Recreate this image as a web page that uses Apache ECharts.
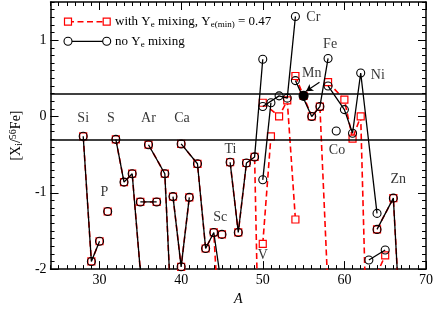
<!DOCTYPE html>
<html>
<head>
<meta charset="utf-8">
<script src="https://cdn.jsdelivr.net/npm/echarts@6/dist/echarts.min.js"></script>
<style>html,body{margin:0;padding:0;background:#fff}#c{width:436px;height:311px}</style>
</head>
<body>
<div id="c"></div>
<script>
// ---- data ----
const isoElement = ['Si','Si','Si','P','S','S','S','S','Cl','Cl','Ar','Ar','Ar','K','K','K','Ca','Ca','Ca','Ca','Ca','Ca','Sc','Ti','Ti','Ti','Ti','Ti','V','V','Cr','Cr','Cr','Cr','Mn','Fe','Fe','Fe','Fe','Co','Ni','Ni','Ni','Ni','Ni','Cu','Cu','Zn','Zn','Zn','Zn','Zn'];
const isoA = [28,29,30,31,32,33,34,36,35,37,36,38,40,39,40,41,40,42,43,44,46,48,45,46,47,48,49,50,50,51,50,52,53,54,55,54,56,57,58,59,58,60,61,62,64,63,65,64,66,67,68,70];
const noYeMixing = [-0.26,-1.90,-1.635,-1.245,-0.30,-0.86,-0.75,-3.3,-1.12,-1.12,-0.37,-0.75,-5.3,-1.05,-1.97,-1.06,-0.36,-0.62,-1.73,-1.52,-3.0,-3.5,-1.545,-0.60,-1.52,-0.61,-0.53,0.75,-0.83,0.18,0.13,0.27,0.24,1.31,0.27,0.47,0.0,0.13,0.76,-0.19,0.40,0.09,-0.22,0.57,-1.27,-1.88,-1.75,-1.48,-1.07,-3.05,-3.5,-4.0];
const withYeMixing = [-0.26,-1.90,-1.635,-1.245,-0.30,-0.86,-0.75,-3.3,-1.12,-1.12,-0.37,-0.75,-5.3,-1.05,-1.97,-1.06,-0.36,-0.62,-1.73,-1.52,-5.3,-6.0,-1.545,-0.60,-1.52,-0.61,-0.53,-5.7,-1.67,-0.26,0.18,0.0,0.21,-1.35,0.27,0.53,0.0,0.13,-2.3,null,0.45,0.22,-0.29,0.0,-8.0,-2.3,-1.82,-1.48,-1.07,-3.05,-3.5,-4.0];

const labelText = ['Si','S','Ar','Ca','P','Ti','Sc','V','Cr','Mn','Fe','Ni','Co','Zn'];
const labelA = [28.0,31.4,36.0,40.1,30.6,46.05,44.8,50.0,56.2,56.0,58.25,64.1,59.1,66.6];
const labelV = [-0.02,-0.02,-0.02,-0.02,-1.0,-0.43,-1.32,-1.82,1.30,0.56,0.95,0.54,-0.45,-0.83];

const xMajorTicks = [30,40,50,60,70];
const yMajorTicks = [-2,-1,0,1];
const bandLimits = [0.3,-0.3];
const mnArrow = [[56.95,0.45],[55.3,0.33]];

// ---- build ----
const FONT = 'Liberation Serif';
const RED = '#ff0000';
const xMinor = []; for (let a = 24; a <= 70; a++) xMinor.push(a);
const yMinor = []; for (let k = -20; k <= 15; k++) yMinor.push(+(k/10).toFixed(1));

const groups = [];
isoElement.forEach((el, i) => {
  if (!groups.length || groups[groups.length-1].el !== el) groups.push({el, idx: []});
  groups[groups.length-1].idx.push(i);
});

const series = [];
groups.forEach(g => {
  const filled = g.el === 'Mn';
  series.push({
    type: 'line', name: 'with mixing', z: 2,
    data: g.idx.filter(i => withYeMixing[i] !== null).map(i => [isoA[i], withYeMixing[i]]),
    symbol: 'rect', symbolSize: 7, showAllSymbol: true,
    lineStyle: {color: RED, width: 1.6, type: [6,3.5]},
    itemStyle: {color: filled ? RED : '#fff', borderColor: RED, borderWidth: 1.2},
    emphasis: {disabled: true}, animation: false
  });
});
groups.forEach((g, gi) => {
  const filled = g.el === 'Mn';
  const s = {
    type: 'line', name: 'no mixing', z: 3,
    data: g.idx.map(i => [isoA[i], noYeMixing[i]]),
    symbol: 'circle', symbolSize: filled ? 9 : 8, showAllSymbol: true,
    lineStyle: {color: '#000', width: 1.3},
    itemStyle: {color: filled ? '#000' : 'rgba(255,255,255,0)', borderColor: '#000', borderWidth: 1.1},
    emphasis: {disabled: true}, animation: false
  };
  if (gi === 0) {
    s.markLine = {
      silent: true, symbol: 'none', animation: false,
      label: {show: false},
      lineStyle: {color: '#000', width: 1.5, type: 'solid'},
      data: bandLimits.map(v => ({yAxis: v}))
    };
  }
  if (filled) {
    s.markLine = {
      silent: true, animation: false, symbol: ['none','arrow'], symbolSize: [6,7],
      label: {show: false},
      lineStyle: {color: '#000', width: 1.2, type: 'solid'},
      data: [[{coord: mnArrow[0]}, {coord: mnArrow[1]}]]
    };
  }
  series.push(s);
});
series.push({
  type: 'scatter', z: 5, symbolSize: 0, silent: true, animation: false,
  data: labelText.map((t, i) => ({name: t, value: [labelA[i], labelV[i]]})),
  label: {show: true, position: 'inside', formatter: '{b}', color: '#000', fontFamily: FONT, fontSize: 14}
});

const axisBase = {
  type: 'value', splitLine: {show: false},
  axisLine: {show: false, onZero: false}, axisLabel: {show: false},
  axisTick: {show: true, inside: true, length: 4, lineStyle: {color: '#000', width: 1}}
};
function ax(extra) { return Object.assign({}, JSON.parse(JSON.stringify(axisBase)), extra); }

const xAxes = [
  ax({position: 'bottom', min: 24, max: 70,
      axisLine: {show: true, onZero: false, lineStyle: {color: '#000', width: 1.5}},
      axisTick: {show: true, inside: true, length: 8, customValues: xMajorTicks, lineStyle: {color: '#000', width: 1}},
      axisLabel: {show: true, customValues: xMajorTicks, color: '#000', fontFamily: FONT, fontSize: 14, margin: 4},
      name: 'A', nameLocation: 'middle', nameGap: 14,
      nameTextStyle: {color: '#000', fontFamily: FONT, fontSize: 14, fontStyle: 'italic'}}),
  ax({position: 'bottom', min: 24, max: 70,
      axisTick: {show: true, inside: true, length: 4, customValues: xMinor, lineStyle: {color: '#000', width: 1}}}),
  ax({position: 'top', min: 24, max: 70,
      axisLine: {show: true, onZero: false, lineStyle: {color: '#000', width: 1.5}},
      axisTick: {show: true, inside: true, length: 8, customValues: xMajorTicks, lineStyle: {color: '#000', width: 1}}}),
  ax({position: 'top', min: 24, max: 70,
      axisTick: {show: true, inside: true, length: 4, customValues: xMinor, lineStyle: {color: '#000', width: 1}}})
];
const yAxes = [
  ax({position: 'left', min: -2, max: 1.5,
      axisLine: {show: true, onZero: false, lineStyle: {color: '#000', width: 1.5}},
      axisTick: {show: true, inside: true, length: 8, customValues: yMajorTicks, lineStyle: {color: '#000', width: 1}},
      axisLabel: {show: true, customValues: yMajorTicks, color: '#000', fontFamily: FONT, fontSize: 14, margin: 4,
                  formatter: v => (v < 0 ? '-' + Math.abs(v) : '' + v)},
      name: '[X{sub|i}/{sup|56}Fe]', nameLocation: 'middle', nameGap: 22, nameRotate: 90,
      nameTextStyle: {color: '#000', fontFamily: FONT, fontSize: 14, lineHeight: 16,
        rich: {sub: {fontFamily: FONT, fontSize: 10, lineHeight: 4, verticalAlign: 'bottom', color: '#000'},
               sup: {fontFamily: FONT, fontSize: 10, lineHeight: 4, verticalAlign: 'top', color: '#000'}}}}),
  ax({position: 'left', min: -2, max: 1.5,
      axisTick: {show: true, inside: true, length: 4, customValues: yMinor, lineStyle: {color: '#000', width: 1}}}),
  ax({position: 'right', min: -2, max: 1.5,
      axisLine: {show: true, onZero: false, lineStyle: {color: '#000', width: 1.5}},
      axisTick: {show: true, inside: true, length: 8, customValues: yMajorTicks, lineStyle: {color: '#000', width: 1}}}),
  ax({position: 'right', min: -2, max: 1.5,
      axisTick: {show: true, inside: true, length: 4, customValues: yMinor, lineStyle: {color: '#000', width: 1}}})
];

const richLeg = {
  sub: {fontFamily: FONT, fontSize: 9, lineHeight: 4, verticalAlign: 'bottom', fill: '#000'}
};
const legendGraphic = [
  {type: 'line', shape: {x1: 68, y1: 21.7, x2: 106.7, y2: 21.7}, style: {stroke: RED, lineWidth: 1.6, lineDash: [6,3.5]}},
  {type: 'rect', shape: {x: 64.5, y: 18.2, width: 7, height: 7}, style: {fill: '#fff', stroke: RED, lineWidth: 1.2}},
  {type: 'rect', shape: {x: 103.2, y: 18.2, width: 7, height: 7}, style: {fill: '#fff', stroke: RED, lineWidth: 1.2}},
  {type: 'line', shape: {x1: 68, y1: 41.3, x2: 106.7, y2: 41.3}, style: {stroke: '#000', lineWidth: 1.3}},
  {type: 'circle', shape: {cx: 68, cy: 41.3, r: 4}, style: {fill: '#fff', stroke: '#000', lineWidth: 1.1}},
  {type: 'circle', shape: {cx: 106.7, cy: 41.3, r: 4}, style: {fill: '#fff', stroke: '#000', lineWidth: 1.1}},
  {type: 'text', x: 115, y: 21.7, style: {text: 'with Y{sub|e} mixing, Y{sub|e(min)} = 0.47', font: '13px "Liberation Serif"', fill: '#000', verticalAlign: 'middle', lineHeight: 15, rich: richLeg}},
  {type: 'text', x: 115, y: 41.3, style: {text: 'no Y{sub|e} mixing', font: '13px "Liberation Serif"', fill: '#000', verticalAlign: 'middle', lineHeight: 15, rich: richLeg}}
];

const chart = echarts.init(document.getElementById('c'), null, {renderer: 'canvas'});
chart.setOption({
  backgroundColor: '#fff',
  animation: false,
  grid: {left: 41, right: 8, top: 2, bottom: 29, containLabel: false},
  xAxis: xAxes,
  yAxis: yAxes,
  series: series,
  graphic: legendGraphic
});
</script>
</body>
</html>
